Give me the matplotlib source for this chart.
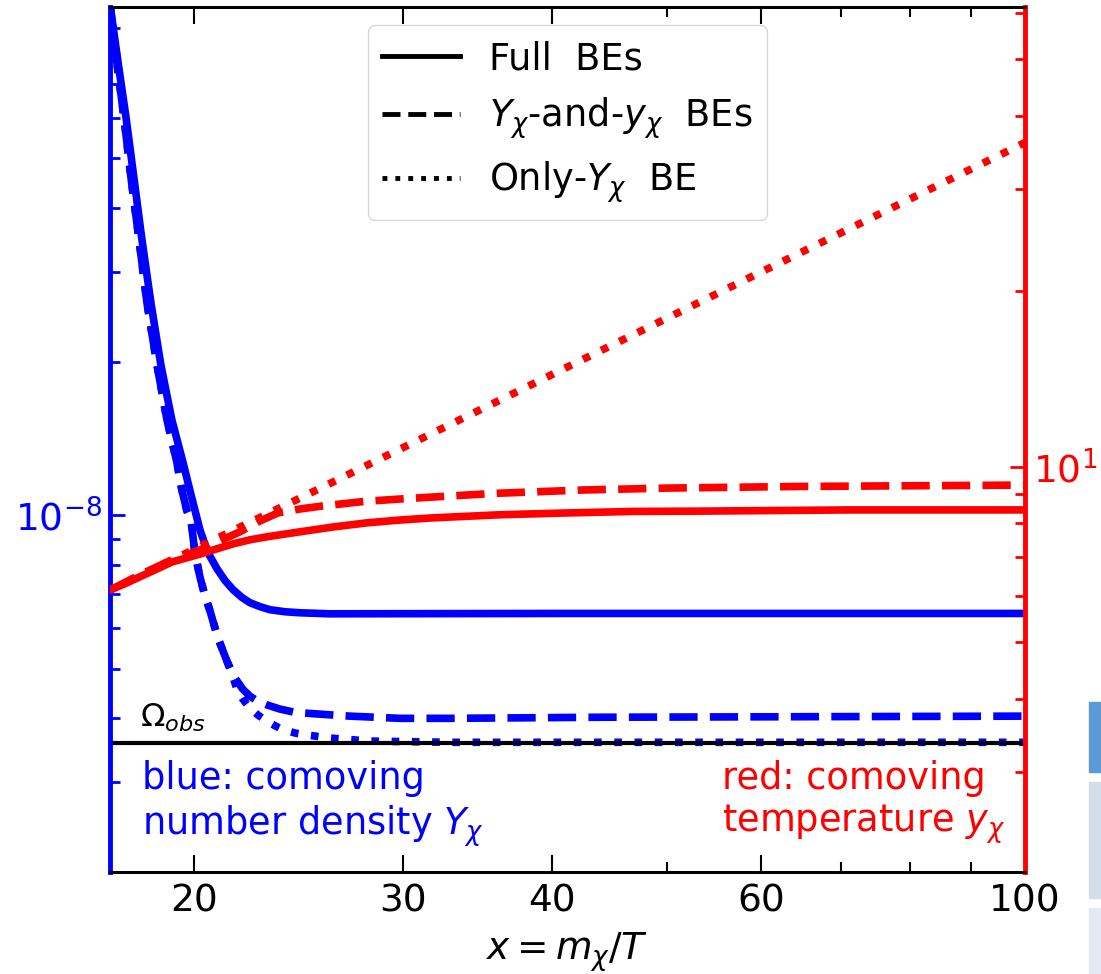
import numpy as np
import matplotlib
matplotlib.use("Agg")
from matplotlib import pyplot as plt
from matplotlib.lines import Line2D
from matplotlib.patches import Rectangle
from matplotlib import ticker

# comoving number density Y_chi (left axis, blue)
x_Y_full = [17.0, 17.27, 17.54, 17.81, 18.08, 18.40, 18.76, 19.16, 19.58, 19.89, 20.24, 20.55,
            20.91, 21.24, 21.57, 21.95, 22.29, 22.73, 23.17, 23.85, 24.55, 26.02, 40.0, 100.0]
Y_full = [1.0e-7, 7.69e-8, 5.99e-8, 4.56e-8, 3.48e-8, 2.61e-8, 1.97e-8, 1.54e-8, 1.27e-8,
          1.095e-8, 9.34e-9, 8.45e-9, 7.86e-9, 7.45e-9, 7.15e-9, 6.90e-9, 6.74e-9, 6.62e-9,
          6.53e-9, 6.47e-9, 6.44e-9, 6.41e-9, 6.42e-9, 6.42e-9]

x_Y_two = [17.0, 17.23, 17.47, 17.71, 17.98, 18.26, 18.62, 18.98, 19.35, 19.54, 19.73, 19.89,
           20.04, 20.24, 20.43, 20.63, 20.95, 21.32, 21.65, 21.99, 22.29, 22.64, 23.04, 23.63,
           24.32, 25.38, 27.05, 29.81, 32.84, 43.9, 100.0]
Y_two = [1.0e-7, 7.69e-8, 5.99e-8, 4.56e-8, 3.48e-8, 2.61e-8, 1.97e-8, 1.54e-8, 1.27e-8,
         1.12e-8, 1.02e-8, 9.77e-9, 8.42e-9, 7.55e-9, 6.96e-9, 6.50e-9, 5.75e-9, 5.18e-9,
         4.80e-9, 4.56e-9, 4.42e-9, 4.32e-9, 4.25e-9, 4.17e-9, 4.11e-9, 4.08e-9, 4.04e-9,
         4.00e-9, 4.00e-9, 4.02e-9, 4.04e-9]

x_Y_only = [17.0, 17.23, 17.47, 17.71, 17.98, 18.26, 18.62, 18.98, 19.35, 19.54, 19.73, 19.89,
            20.04, 20.24, 20.43, 20.63, 20.95, 21.32, 21.57, 21.74, 21.99, 22.29, 22.64, 23.04,
            23.44, 23.85, 24.37, 24.89, 26.02, 28.12, 32.84, 100.0]
Y_only = [1.0e-7, 7.69e-8, 5.99e-8, 4.56e-8, 3.48e-8, 2.61e-8, 1.97e-8, 1.54e-8, 1.27e-8,
          1.12e-8, 1.02e-8, 9.77e-9, 8.42e-9, 7.55e-9, 6.96e-9, 6.50e-9, 5.75e-9, 5.18e-9,
          4.82e-9, 4.56e-9, 4.36e-9, 4.19e-9, 4.06e-9, 3.95e-9, 3.86e-9, 3.79e-9, 3.74e-9,
          3.71e-9, 3.66e-9, 3.61e-9, 3.59e-9, 3.59e-9]

omega_obs = 3.58e-9

# comoving temperature y_chi (right axis, red)
x_y_full = [17.0, 17.54, 18.01, 18.55, 19.16, 19.70, 20.24, 20.87, 21.57, 22.29, 23.04, 24.55,
            26.18, 27.96, 29.81, 31.78, 36.18, 41.19, 46.8, 53.3, 71.25, 100.0]
y_full = [6.15, 6.32, 6.48, 6.66, 6.87, 6.98, 7.09, 7.23, 7.38, 7.50, 7.59, 7.74, 7.89, 8.02,
          8.11, 8.18, 8.28, 8.34, 8.39, 8.40, 8.44, 8.44]

x_y_two = [17.0, 18.01, 19.16, 19.70, 20.24, 21.03, 21.86, 22.64, 23.53, 24.55, 25.62, 27.85,
           30.27, 32.96, 35.83, 42.41, 50.0, 64.7, 100.0]
y_two = [6.15, 6.53, 6.93, 7.06, 7.21, 7.47, 7.74, 8.05, 8.34, 8.47, 8.57, 8.73, 8.83, 8.92,
         9.01, 9.13, 9.20, 9.26, 9.31]

x_y_only = [17.0, 25.0, 50.0, 100.0]
y_only = [6.15, 9.0, 18.0, 36.0]

x_major = [20, 30, 40, 60, 100]
x_minor = [50, 70, 80, 90]

blue = "#0000ff"
red = "#ff0000"
lw = 5.5

fig = plt.figure(figsize=(11.01, 9.74), dpi=100)
ax1 = fig.add_axes([110 / 1101, 1 - 872 / 974, 915 / 1101, 865 / 974])
ax2 = ax1.twinx()

ax1.plot(x_Y_full, Y_full, color=blue, lw=lw, ls="-")
ax1.plot(x_Y_two, Y_two, color=blue, lw=lw, ls="--")
ax1.plot(x_Y_only, Y_only, color=blue, lw=lw, ls=":")
ax1.axhline(omega_obs, color="k", lw=3)
ax1.text(18.0, 3.72e-9, r"$\Omega_{obs}$", fontsize=23, ha="left", va="bottom")

ax2.plot(x_y_full, y_full, color=red, lw=lw, ls="-")
ax2.plot(x_y_two, y_two, color=red, lw=lw, ls="--")
ax2.plot(x_y_only, y_only, color=red, lw=lw, ls=":")

ax1.set_xscale("log")
ax1.set_yscale("log")
ax2.set_yscale("log")
ax1.set_xlim(17, 100)
ax1.set_ylim(2.0e-9, 9.9e-8)
ax2.set_ylim(2.02, 61.5)

ax1.xaxis.set_major_locator(ticker.FixedLocator(x_major))
ax1.xaxis.set_major_formatter(ticker.FixedFormatter([str(v) for v in x_major]))
ax1.xaxis.set_minor_locator(ticker.FixedLocator(x_minor))
ax1.xaxis.set_minor_formatter(ticker.NullFormatter())
ax1.yaxis.set_major_locator(ticker.FixedLocator([1e-8]))
ax1.yaxis.set_major_formatter(ticker.FixedFormatter([r"$10^{-8}$"]))
ax1.yaxis.set_minor_formatter(ticker.NullFormatter())
ax2.yaxis.set_major_locator(ticker.FixedLocator([10]))
ax2.yaxis.set_major_formatter(ticker.FixedFormatter([r"$10^{1}$"]))
ax2.yaxis.set_minor_formatter(ticker.NullFormatter())

ax1.tick_params(axis="x", which="both", direction="in", top=True, bottom=True,
                labelsize=27, pad=8, width=1.5, colors="k")
ax1.tick_params(axis="x", which="major", length=12)
ax1.tick_params(axis="x", which="minor", length=7)
ax1.tick_params(axis="y", which="both", direction="in", colors=blue, labelsize=27,
                pad=6, width=2)
ax1.tick_params(axis="y", which="major", length=11)
ax1.tick_params(axis="y", which="minor", length=7)
ax2.tick_params(axis="y", which="both", direction="in", colors=red, labelsize=27,
                pad=6, width=2)
ax2.tick_params(axis="y", which="major", length=11)
ax2.tick_params(axis="y", which="minor", length=7)
ax2.tick_params(axis="x", which="both", top=False, bottom=False)

for ax in (ax1, ax2):
    ax.spines["top"].set_linewidth(2)
    ax.spines["bottom"].set_linewidth(2)
ax1.spines["left"].set_color(blue)
ax1.spines["left"].set_linewidth(3.5)
ax1.spines["right"].set_visible(False)
ax2.spines["left"].set_visible(False)
ax2.spines["right"].set_color(red)
ax2.spines["right"].set_linewidth(3.5)

ax1.set_xlabel(r"$x = m_\chi/T$", fontsize=27, labelpad=8)

ax1.text(0.035, 0.13, "blue: comoving\nnumber density $Y_\\chi$", color=blue, fontsize=26.5,
         ha="left", va="top", transform=ax1.transAxes)
ax2.text(0.978, 0.13, "red: comoving\ntemperature $y_\\chi$", color=red, fontsize=26.5,
         ha="right", va="top", multialignment="left", transform=ax2.transAxes)

handles = [
    Line2D([], [], color="k", lw=3.5, ls="-"),
    Line2D([], [], color="k", lw=3.5, ls="--"),
    Line2D([], [], color="k", lw=3.5, ls=":"),
]
labels = ["Full  BEs", r"$Y_\chi$-and-$y_\chi$  BEs", r"Only-$Y_\chi$  BE"]
ax2.legend(handles, labels, loc="upper center", fontsize=26.5, handlelength=2.1)

# screenshot edge boxes on the right
fig.patches.append(Rectangle((1089 / 1101, 1 - 772 / 974), 12 / 1101, 70 / 974,
                             transform=fig.transFigure, color="#5b9bd5", zorder=0))
fig.patches.append(Rectangle((1089 / 1101, 1 - 898 / 974), 12 / 1101, 116 / 974,
                             transform=fig.transFigure, color="#d3deec", zorder=0))
fig.patches.append(Rectangle((1089 / 1101, 0), 12 / 1101, 66 / 974,
                             transform=fig.transFigure, color="#e4eaf3", zorder=0))

fig.savefig("out.png", dpi=100)
